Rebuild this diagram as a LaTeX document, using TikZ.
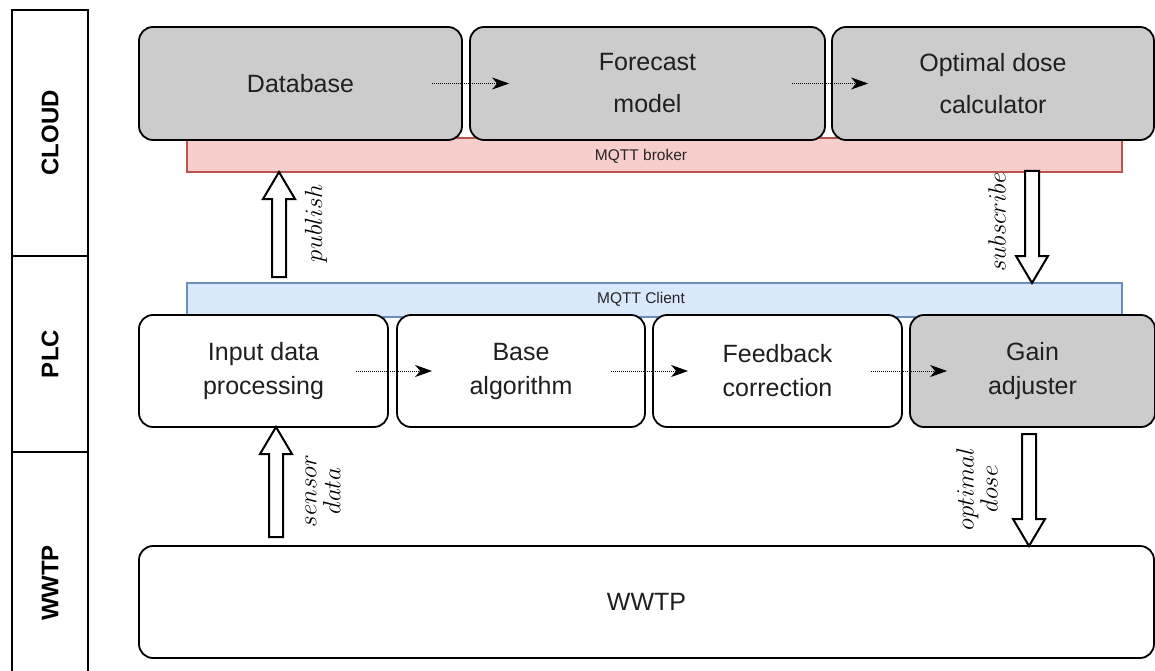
\documentclass[tikz,border=0pt]{standalone}
\usepackage{fontspec}
\setmainfont{Liberation Sans}
\usetikzlibrary{arrows.meta,calc}
\definecolor{boxgray}{HTML}{CCCCCC}
\definecolor{brokerfill}{HTML}{F8CECC}
\definecolor{brokerline}{HTML}{B85450}
\definecolor{clientfill}{HTML}{DAE8FC}
\definecolor{clientline}{HTML}{6C8EBF}
\newcommand{\upblock}[3]{\draw[barrow] ({#1-7},#2) -- ({#1-7},{#3+27}) -- ({#1-16},{#3+27}) -- (#1,#3) -- ({#1+16},{#3+27}) -- ({#1+7},{#3+27}) -- ({#1+7},#2) -- cycle;}
\newcommand{\downblock}[3]{\draw[barrow] ({#1-7},#2) -- ({#1-7},{#3-27}) -- ({#1-16},{#3-27}) -- (#1,#3) -- ({#1+16},{#3-27}) -- ({#1+7},{#3-27}) -- ({#1+7},#2) -- cycle;}
\begin{document}
\begin{tikzpicture}[x=1pt,y=-1pt,
  box/.style={draw=black, line width=1.8pt, rounded corners=14pt, align=center, inner sep=0pt, text=black!88},
  cloudbox/.style={box, fill=boxgray, minimum height=113pt, font=\fontsize{25}{42}\selectfont},
  plcbox/.style={box, minimum height=112pt, font=\fontsize{25}{34}\selectfont},
  bus/.style={line width=2.2pt, inner sep=0pt, minimum width=935pt, minimum height=34pt},
  buslbl/.style={font=\fontsize{15.5}{17}\selectfont, inner sep=0pt, text=black!85},
  flow/.style={densely dotted, line width=1pt, -{Stealth[length=17pt,width=12pt,inset=5pt]}},
  barrow/.style={draw=black, fill=white, line width=2pt, line join=miter},
  lbl/.style={rotate=90, align=center, font=\fontsize{24.88}{24}\selectfont, inner sep=0pt},
  lane/.style={draw=black, line width=2.2pt, rotate=90, minimum height=76pt, inner sep=0pt, font=\fontsize{24}{28}\selectfont\bfseries}]

\useasboundingbox (0,0) rectangle (1155,671);
\fill[white] (0,0) rectangle (1155,671);

% lanes
\node[lane, minimum width=246pt] (cloudlane) at (50,133) {CLOUD};
\node[lane, minimum width=196pt] (plclane) at (50,354) {PLC};
\node[lane, minimum width=262pt] (wwtplane) at (50,583) {WWTP};

% buses
\node[bus, draw=brokerline, fill=brokerfill] (broker) at (654.5,155) {};
\node[buslbl] (brokerlbl) at (641,156) {MQTT broker};
\node[bus, draw=clientline, fill=clientfill] (client) at (654.5,300) {};
\node[buslbl] (clientlbl) at (641,299) {MQTT Client};

% cloud boxes
\node[cloudbox, minimum width=323pt] (db) at (300.5,83.5) {Database};
\node[cloudbox, minimum width=355pt] (fc) at (647.5,83.5) {Forecast\\model};
\node[cloudbox, minimum width=322pt] (odc) at (993,83.5) {Optimal dose\\calculator};

% PLC boxes
\node[plcbox, fill=white, minimum width=249pt] (inp) at (263.5,371) {Input data\\processing};
\node[plcbox, fill=white, minimum width=248pt] (base) at (521,371) {Base\\algorithm};
\node[plcbox, fill=white, minimum width=249pt] (fb) at (777.5,371) {Feedback\\correction};
\node[plcbox, fill=boxgray, minimum width=245pt] (gain) at (1032.5,371) {Gain\\adjuster};

% WWTP
\node[box, fill=white, minimum width=1015pt, minimum height=112pt, font=\fontsize{25}{30}\selectfont] (wwtp) at (646.5,602) {WWTP};

% dotted flows
\draw[flow] ($(db.east)+(-31,0)$) -- ($(fc.west)+(40,0)$);
\draw[flow] ($(fc.east)+(-34,0)$) -- ($(odc.west)+(37,0)$);
\draw[flow] ($(inp.east)+(-33,0)$) -- ($(base.west)+(36,0)$);
\draw[flow] ($(base.east)+(-35,0)$) -- ($(fb.west)+(36,0)$);
\draw[flow] ($(fb.east)+(-32,0)$) -- ($(gain.west)+(38,0)$);

% block arrows
\upblock{279}{277}{172}
\downblock{1032}{171}{283}
\upblock{276}{537}{427}
\downblock{1029}{434}{546}

% labels
\node[lbl] (publbl) at (316,223) {$publish$};
\node[lbl] (sublbl) at (997,222) {$subscribe$};
\node[lbl] (senslbl) at (323,491) {$sensor$\\$data$};
\node[lbl] (optlbl) at (977,489) {$optimal$\\$dose$};
\end{tikzpicture}
\end{document}
